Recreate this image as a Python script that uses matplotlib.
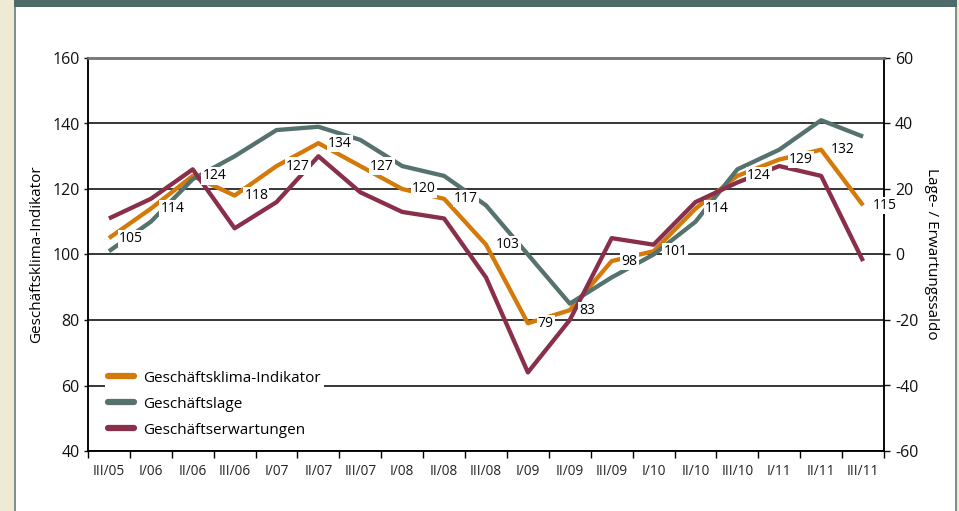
import matplotlib
matplotlib.use('Agg')
import matplotlib.pyplot as plt
from matplotlib.lines import Line2D
from matplotlib.patches import Rectangle

plt.rcParams['font.family'] = ['Open Sans', 'DejaVu Sans']
plt.rcParams['axes.unicode_minus'] = False

# Data
quarters = ['III/05', 'I/06', 'II/06', 'III/06', 'I/07', 'II/07', 'III/07', 'I/08', 'II/08',
            'III/08', 'I/09', 'II/09', 'III/09', 'I/10', 'II/10', 'III/10', 'I/11', 'II/11', 'III/11']
klima = [105, 114, 124, 118, 127, 134, 127, 120, 117, 103, 79, 83, 98, 101, 114, 124, 129, 132, 115]
lage = [1, 10, 23, 30, 38, 39, 35, 27, 24, 15, 0, -15, -7, 0, 10, 26, 32, 41, 36]
erwartungen = [11, 17, 26, 8, 16, 30, 19, 13, 11, -7, -36, -20, 5, 3, 16, 22, 27, 24, -2]

c_klima = '#d47a0a'
c_lage = '#55726e'
c_erw = '#8a2f4a'
beige = '#eeead3'

W, H = 959, 511
fig = plt.figure(figsize=(W / 100, H / 100), dpi=100, facecolor=beige)

# frame decoration
fig.patches.append(Rectangle((16 / W, 0), (955 - 16) / W, 1, transform=fig.transFigure,
                             facecolor='white', edgecolor='none', zorder=-3))
fig.patches.append(Rectangle((14 / W, 0), 2 / W, 1, transform=fig.transFigure,
                             facecolor='#7f918c', edgecolor='none', zorder=-2))
fig.patches.append(Rectangle((955 / W, 0), 2 / W, 1, transform=fig.transFigure,
                             facecolor='#7f918c', edgecolor='none', zorder=-2))
fig.patches.append(Rectangle((14 / W, 1 - 7 / H), (957 - 14) / W, 7 / H, transform=fig.transFigure,
                             facecolor='#4f6b69', edgecolor='none', zorder=-1))

ax = fig.add_axes([88 / W, 1 - 451 / H, (884 - 88) / W, (451 - 58) / H])
ax.set_facecolor('none')
ax2 = ax.twinx()

x = list(range(len(quarters)))

ax.plot(x, klima, color=c_klima, lw=3.1, solid_capstyle='butt', zorder=3)
ax2.plot(x, lage, color=c_lage, lw=3.1, solid_capstyle='butt', zorder=3)
ax2.plot(x, erwartungen, color=c_erw, lw=3.1, solid_capstyle='butt', zorder=4)

ax.set_xlim(-0.5, len(quarters) - 0.5)
ax.set_ylim(40, 160)
ax2.set_ylim(-60, 60)
ax.set_yticks(range(40, 161, 20))
ax2.set_yticks(range(-60, 61, 20))

# grid
ax.set_axisbelow(True)
ax.yaxis.grid(True, color='black', lw=1.1)

# x ticks at category boundaries, labels in between
ax.set_xticks([i - 0.5 for i in range(len(quarters) + 1)])
ax.set_xticklabels([])
ax.set_xticks(x, minor=True)
ax.set_xticklabels(quarters, minor=True, fontsize=9.8, color='#222222')
ax.tick_params(axis='x', which='major', direction='out', length=5, width=1)
ax.tick_params(axis='x', which='minor', length=0, pad=9)

ax.tick_params(axis='y', direction='out', length=3, width=1, pad=3, labelsize=11.5, colors='#111111')
ax2.tick_params(axis='y', direction='out', length=4, width=1, pad=4, labelsize=11.5, colors='#111111')

for a in (ax, ax2):
    a.spines['top'].set_color('#777777')
    a.spines['top'].set_linewidth(1.8)
    for s in ('left', 'right', 'bottom'):
        a.spines[s].set_color('black')
        a.spines[s].set_linewidth(1.1)

ax.set_ylabel('Geschäftsklima-Indikator', fontsize=11, labelpad=6)
fig.text(931 / W, 1 - 254 / H, 'Lage- / Erwartungssaldo', rotation=-90, fontsize=11,
         ha='center', va='center')

# value labels for the climate indicator
for xi, v in zip(x, klima):
    ax2.annotate(str(v), xy=(xi, v), xycoords=ax.transData, xytext=(7, 0),
                 textcoords='offset points', ha='left', va='center', fontsize=10,
                 bbox=dict(boxstyle='square,pad=0.08', facecolor='white', edgecolor='none'),
                 zorder=10)

handles = [Line2D([], [], color=c_klima, lw=4.5, solid_capstyle='round'),
           Line2D([], [], color=c_lage, lw=4.5, solid_capstyle='round'),
           Line2D([], [], color=c_erw, lw=4.5, solid_capstyle='round')]
leg = ax2.legend(handles, ['Geschäftsklima-Indikator', 'Geschäftslage', 'Geschäftserwartungen'],
                 loc='upper left', bbox_to_anchor=(97 / W, 1 - 360 / H), bbox_transform=fig.transFigure,
                 fontsize=11, frameon=True, framealpha=1, facecolor='white', edgecolor='none',
                 handlelength=1.7, handletextpad=0.6, labelspacing=0.72, borderpad=0.2,
                 fancybox=False)
leg.set_zorder(20)

fig.savefig('out.png', dpi=100, facecolor=beige)
